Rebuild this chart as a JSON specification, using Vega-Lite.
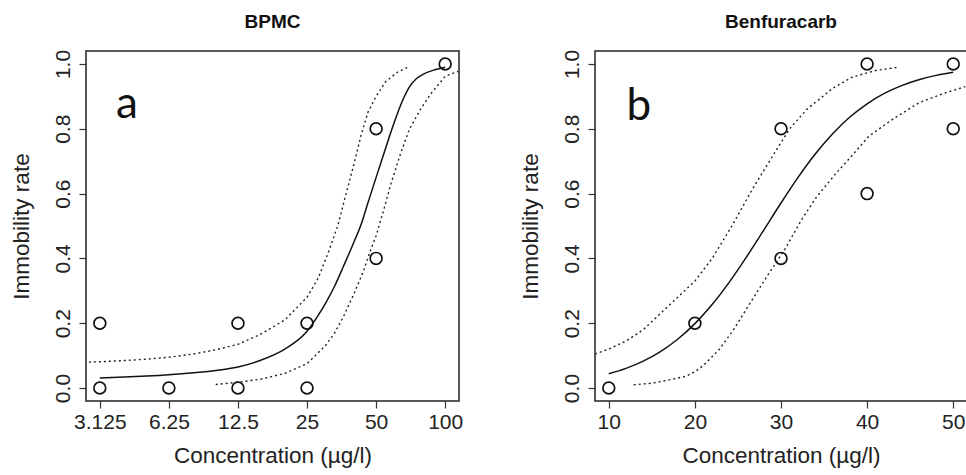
{
  "$schema": "https://vega.github.io/schema/vega-lite/v6.json",
  "background": "white",
  "padding": {"left": 9, "top": 12, "right": 0, "bottom": 0},
  "spacing": 54,
  "config": {
    "view": {"stroke": "#222", "strokeWidth": 1.5},
    "font": "Liberation Sans",
    "axis": {"domain": false, "grid": false, "tickColor": "#333", "tickSize": 7, "tickWidth": 1.2, "labelFont": "Liberation Sans", "labelFontSize": 21, "labelColor": "#222", "titleFont": "Liberation Sans", "titleFontSize": 22.5, "titleFontWeight": "normal", "titleColor": "#222", "labelFlush": false, "labelOverlap": false},
    "axisY": {"labelAngle": -90, "labelAlign": "center", "labelBaseline": "bottom", "labelPadding": 6, "titlePadding": 19},
    "axisX": {"labelPadding": 3, "titlePadding": 12},
    "title": {"fontSize": 19, "fontWeight": "bold", "font": "Liberation Sans", "color": "#111", "offset": 17}
  },
  "datasets": {
    "ptsA": [
      {"c": 3.125, "p": 0.2}, {"c": 3.125, "p": 0.0}, {"c": 6.25, "p": 0.0},
      {"c": 12.5, "p": 0.2}, {"c": 12.5, "p": 0.0}, {"c": 25, "p": 0.2}, {"c": 25, "p": 0.0},
      {"c": 50, "p": 0.8}, {"c": 50, "p": 0.4}, {"c": 100, "p": 1.0}
    ],
    "fitA": [
      {"c": 3.125, "p": 0.031}, {"c": 4, "p": 0.034}, {"c": 5, "p": 0.037}, {"c": 6.25, "p": 0.041},
      {"c": 8, "p": 0.047}, {"c": 10, "p": 0.054}, {"c": 12.5, "p": 0.065}, {"c": 15.6, "p": 0.085},
      {"c": 20, "p": 0.12}, {"c": 25, "p": 0.175}, {"c": 28, "p": 0.225}, {"c": 30, "p": 0.26}, {"c": 33, "p": 0.315},
      {"c": 36, "p": 0.375}, {"c": 40, "p": 0.45}, {"c": 43, "p": 0.505}, {"c": 46, "p": 0.57},
      {"c": 50, "p": 0.65}, {"c": 55, "p": 0.74}, {"c": 60, "p": 0.82}, {"c": 65, "p": 0.885},
      {"c": 70, "p": 0.93}, {"c": 75, "p": 0.955}, {"c": 80, "p": 0.968}, {"c": 90, "p": 0.982}, {"c": 100, "p": 0.99}
    ],
    "upA": [
      {"c": 2.8, "p": 0.08}, {"c": 3.125, "p": 0.081}, {"c": 4, "p": 0.085}, {"c": 5, "p": 0.089},
      {"c": 6.25, "p": 0.095}, {"c": 8, "p": 0.105}, {"c": 10, "p": 0.118}, {"c": 12.5, "p": 0.135},
      {"c": 15.6, "p": 0.165}, {"c": 20, "p": 0.21}, {"c": 25, "p": 0.28}, {"c": 28, "p": 0.34},
      {"c": 31, "p": 0.42}, {"c": 34, "p": 0.5}, {"c": 37, "p": 0.6}, {"c": 40, "p": 0.69},
      {"c": 43, "p": 0.78}, {"c": 46, "p": 0.85}, {"c": 50, "p": 0.9}, {"c": 55, "p": 0.945},
      {"c": 62, "p": 0.975}, {"c": 69, "p": 0.99}
    ],
    "loA": [
      {"c": 10, "p": 0.011}, {"c": 12.5, "p": 0.018}, {"c": 15.6, "p": 0.027}, {"c": 20, "p": 0.045},
      {"c": 25, "p": 0.075}, {"c": 30, "p": 0.13}, {"c": 33, "p": 0.17}, {"c": 36, "p": 0.22},
      {"c": 40, "p": 0.29}, {"c": 44, "p": 0.36}, {"c": 47, "p": 0.42}, {"c": 50, "p": 0.47},
      {"c": 54, "p": 0.55}, {"c": 58, "p": 0.63}, {"c": 64, "p": 0.725}, {"c": 70, "p": 0.8},
      {"c": 78, "p": 0.86}, {"c": 87, "p": 0.91}, {"c": 100, "p": 0.962}, {"c": 114, "p": 0.977}
    ],
    "ptsB": [
      {"c": 10, "p": 0.0}, {"c": 20, "p": 0.2}, {"c": 30, "p": 0.8}, {"c": 30, "p": 0.4},
      {"c": 40, "p": 1.0}, {"c": 40, "p": 0.6}, {"c": 50, "p": 1.0}, {"c": 50, "p": 0.8}
    ],
    "fitB": [
      {"c": 10, "p": 0.0442}, {"c": 12, "p": 0.0608}, {"c": 14, "p": 0.083}, {"c": 16, "p": 0.1125},
      {"c": 18, "p": 0.1506}, {"c": 20, "p": 0.1988}, {"c": 22, "p": 0.2577}, {"c": 24, "p": 0.3269},
      {"c": 26, "p": 0.4047}, {"c": 28, "p": 0.4875}, {"c": 30, "p": 0.571}, {"c": 32, "p": 0.6507},
      {"c": 34, "p": 0.7227}, {"c": 36, "p": 0.7848}, {"c": 38, "p": 0.8362}, {"c": 40, "p": 0.8772},
      {"c": 42, "p": 0.9091}, {"c": 44, "p": 0.9333}, {"c": 46, "p": 0.9514}, {"c": 48, "p": 0.9648},
      {"c": 50, "p": 0.9746}
    ],
    "upB": [
      {"c": 8.4, "p": 0.105}, {"c": 10, "p": 0.12}, {"c": 12, "p": 0.145}, {"c": 14, "p": 0.18},
      {"c": 16, "p": 0.23}, {"c": 18, "p": 0.28}, {"c": 20, "p": 0.33}, {"c": 22, "p": 0.4},
      {"c": 24.3, "p": 0.5}, {"c": 26.6, "p": 0.61}, {"c": 29, "p": 0.715}, {"c": 31, "p": 0.8},
      {"c": 33, "p": 0.86}, {"c": 34.4, "p": 0.89}, {"c": 36, "p": 0.925}, {"c": 38.3, "p": 0.96},
      {"c": 41, "p": 0.98}, {"c": 43.7, "p": 0.99}
    ],
    "loB": [
      {"c": 12.9, "p": 0.01}, {"c": 15, "p": 0.015}, {"c": 17, "p": 0.025}, {"c": 18.9, "p": 0.036},
      {"c": 20, "p": 0.05}, {"c": 21, "p": 0.07}, {"c": 22.8, "p": 0.118}, {"c": 24.5, "p": 0.18},
      {"c": 26.6, "p": 0.27}, {"c": 28.5, "p": 0.35}, {"c": 30.5, "p": 0.43}, {"c": 32.4, "p": 0.52},
      {"c": 34, "p": 0.585}, {"c": 36.3, "p": 0.66}, {"c": 38, "p": 0.71}, {"c": 40.2, "p": 0.777},
      {"c": 43, "p": 0.83}, {"c": 46, "p": 0.88}, {"c": 49, "p": 0.91}, {"c": 51.4, "p": 0.93}
    ]
  },
  "hconcat": [
    {
      "width": 373,
      "height": 350,
      "title": "BPMC",
      "layer": [
        {
          "mark": {"type": "rule", "strokeDash": [9, 5], "color": "#333", "strokeWidth": 1.3},
          "encoding": {"y": {"datum": 0.5, "type": "quantitative", "scale": {"domain": [-0.04, 1.04], "nice": false, "zero": false}}}
        },
        {
          "data": {"name": "upA"},
          "mark": {"type": "line", "strokeDash": [2, 3], "color": "#222", "strokeWidth": 1.4, "clip": true},
          "encoding": {
            "x": {"field": "c", "type": "quantitative", "title": "Concentration (µg/l)", "scale": {"type": "log", "domain": [2.7205, 114.87], "nice": false}},
            "y": {"field": "p", "type": "quantitative", "title": "Immobility rate", "scale": {"domain": [-0.04, 1.04], "nice": false, "zero": false}}
          }
        },
        {
          "data": {"name": "loA"},
          "mark": {"type": "line", "strokeDash": [2, 3], "color": "#222", "strokeWidth": 1.4, "clip": true},
          "encoding": {
            "x": {"field": "c", "type": "quantitative", "title": "Concentration (µg/l)", "scale": {"type": "log", "domain": [2.7205, 114.87], "nice": false}},
            "y": {"field": "p", "type": "quantitative", "title": "Immobility rate", "scale": {"domain": [-0.04, 1.04], "nice": false, "zero": false}}
          }
        },
        {
          "data": {"name": "fitA"},
          "mark": {"type": "line", "color": "#111", "strokeWidth": 1.5, "clip": true, "interpolate": "monotone"},
          "encoding": {
            "x": {"field": "c", "type": "quantitative", "title": "Concentration (µg/l)", "scale": {"type": "log", "domain": [2.7205, 114.87], "nice": false}},
            "y": {"field": "p", "type": "quantitative", "title": "Immobility rate", "scale": {"domain": [-0.04, 1.04], "nice": false, "zero": false}}
          }
        },
        {
          "data": {"name": "ptsA"},
          "mark": {"type": "point", "shape": "circle", "filled": false, "size": 140, "strokeWidth": 1.7, "color": "#111", "opacity": 1},
          "encoding": {
            "x": {"field": "c", "type": "quantitative", "title": "Concentration (µg/l)", "scale": {"type": "log", "domain": [2.7205, 114.87], "nice": false},
                  "axis": {"values": [3.125, 6.25, 12.5, 25, 50, 100], "labelExpr": "'' + datum.value"}},
            "y": {"field": "p", "type": "quantitative", "title": "Immobility rate", "scale": {"domain": [-0.04, 1.04], "nice": false, "zero": false},
                  "axis": {"values": [0, 0.2, 0.4, 0.6, 0.8, 1.0], "format": ".1f"}}
          }
        },
        {
          "data": {"values": [{"c": 4.1, "p": 0.833, "t": "a"}]},
          "mark": {"type": "text", "font": "Lato", "fontSize": 44, "align": "center", "baseline": "alphabetic", "color": "#111"},
          "encoding": {
            "x": {"field": "c", "type": "quantitative", "title": "Concentration (µg/l)", "scale": {"type": "log", "domain": [2.7205, 114.87], "nice": false}},
            "y": {"field": "p", "type": "quantitative", "title": "Immobility rate", "scale": {"domain": [-0.04, 1.04], "nice": false, "zero": false}},
            "text": {"field": "t"}
          }
        }
      ]
    },
    {
      "width": 372,
      "height": 350,
      "title": "Benfuracarb",
      "layer": [
        {
          "mark": {"type": "rule", "strokeDash": [9, 5], "color": "#333", "strokeWidth": 1.3},
          "encoding": {"y": {"datum": 0.5, "type": "quantitative", "scale": {"domain": [-0.04, 1.04], "nice": false, "zero": false}}}
        },
        {
          "data": {"name": "upB"},
          "mark": {"type": "line", "strokeDash": [2, 3], "color": "#222", "strokeWidth": 1.4, "clip": true},
          "encoding": {
            "x": {"field": "c", "type": "quantitative", "title": "Concentration (µg/l)", "scale": {"domain": [8.4, 51.6], "nice": false, "zero": false}},
            "y": {"field": "p", "type": "quantitative", "title": "Immobility rate", "scale": {"domain": [-0.04, 1.04], "nice": false, "zero": false}}
          }
        },
        {
          "data": {"name": "loB"},
          "mark": {"type": "line", "strokeDash": [2, 3], "color": "#222", "strokeWidth": 1.4, "clip": true},
          "encoding": {
            "x": {"field": "c", "type": "quantitative", "title": "Concentration (µg/l)", "scale": {"domain": [8.4, 51.6], "nice": false, "zero": false}},
            "y": {"field": "p", "type": "quantitative", "title": "Immobility rate", "scale": {"domain": [-0.04, 1.04], "nice": false, "zero": false}}
          }
        },
        {
          "data": {"name": "fitB"},
          "mark": {"type": "line", "color": "#111", "strokeWidth": 1.5, "clip": true, "interpolate": "monotone"},
          "encoding": {
            "x": {"field": "c", "type": "quantitative", "title": "Concentration (µg/l)", "scale": {"domain": [8.4, 51.6], "nice": false, "zero": false}},
            "y": {"field": "p", "type": "quantitative", "title": "Immobility rate", "scale": {"domain": [-0.04, 1.04], "nice": false, "zero": false}}
          }
        },
        {
          "data": {"name": "ptsB"},
          "mark": {"type": "point", "shape": "circle", "filled": false, "size": 140, "strokeWidth": 1.7, "color": "#111", "opacity": 1},
          "encoding": {
            "x": {"field": "c", "type": "quantitative", "title": "Concentration (µg/l)", "scale": {"domain": [8.4, 51.6], "nice": false, "zero": false},
                  "axis": {"values": [10, 20, 30, 40, 50], "format": "d"}},
            "y": {"field": "p", "type": "quantitative", "title": "Immobility rate", "scale": {"domain": [-0.04, 1.04], "nice": false, "zero": false},
                  "axis": {"values": [0, 0.2, 0.4, 0.6, 0.8, 1.0], "format": ".1f"}}
          }
        },
        {
          "data": {"values": [{"c": 13.5, "p": 0.827, "t": "b"}]},
          "mark": {"type": "text", "font": "Lato", "fontSize": 44, "align": "center", "baseline": "alphabetic", "color": "#111"},
          "encoding": {
            "x": {"field": "c", "type": "quantitative", "title": "Concentration (µg/l)", "scale": {"domain": [8.4, 51.6], "nice": false, "zero": false}},
            "y": {"field": "p", "type": "quantitative", "title": "Immobility rate", "scale": {"domain": [-0.04, 1.04], "nice": false, "zero": false}},
            "text": {"field": "t"}
          }
        }
      ]
    }
  ]
}
